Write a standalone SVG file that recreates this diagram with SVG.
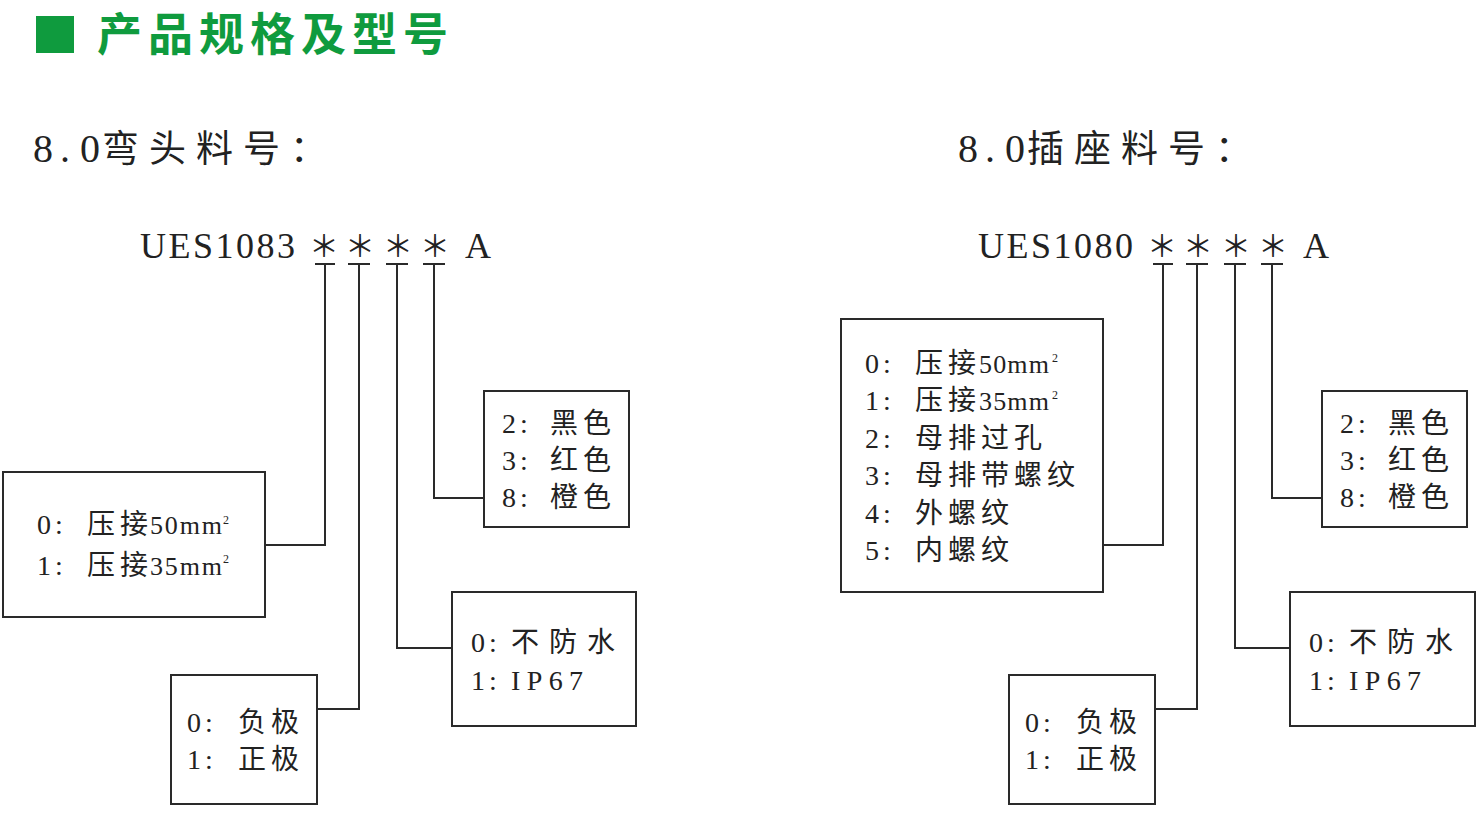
<svg xmlns="http://www.w3.org/2000/svg" width="1483" height="814" viewBox="0 0 1483 814">
<style>
.bg{fill:#ffffff}
.hd{font-family:"Noto Sans CJK SC",sans-serif;font-size:45px;font-weight:700;fill:#0f9b3e}
.ttl{font-family:"Liberation Serif","Noto Sans CJK SC",serif;font-size:40px;fill:#222}
.ttc{font-family:"Noto Sans CJK SC",sans-serif;font-size:37px;letter-spacing:10px;fill:#222}
.code{font-family:"Liberation Serif",serif;font-size:36px;fill:#222}
.ast{font-family:"Noto Sans CJK SC",sans-serif;font-size:30px;fill:#222;text-anchor:middle}
.n{font-family:"Liberation Serif",serif;font-size:28px;letter-spacing:4px;fill:#222}
.m{font-family:"Liberation Serif",serif;font-size:26px;fill:#222}
.c{font-family:"Noto Sans CJK SC",sans-serif;font-size:28px;letter-spacing:5px;fill:#222}
.sup{font-family:"Liberation Serif",serif;font-size:12px;fill:#222}
.box{fill:#fff;stroke:#2a2a2a;stroke-width:2}
.ln{fill:none;stroke:#2a2a2a;stroke-width:2}
</style>
<rect class="bg" x="0" y="0" width="1483" height="814"/>

<g id="header">
<rect x="36" y="16" width="38" height="37" fill="#0f9b3e"/>
<text class="hd" x="97" y="51" textLength="351" lengthAdjust="spacing">产品规格及型号</text>
</g>

<g id="title-left">
<text class="ttl" x="33 60 80" y="162">8.0</text>
<text class="ttc" x="102" y="162">弯头料号：</text>
</g>
<g id="title-right">
<text class="ttl" x="958 985 1005" y="162">8.0</text>
<text class="ttc" x="1027" y="162">插座料号：</text>
</g>

<g id="code-left">
<text class="code" x="140" y="258" textLength="155" lengthAdjust="spacing">UES1083</text>
<text class="ast" x="324" y="257">＊</text>
<text class="ast" x="360" y="257">＊</text>
<text class="ast" x="398" y="257">＊</text>
<text class="ast" x="435" y="257">＊</text>
<text class="code" x="465" y="258">A</text>
</g>
<g id="code-right">
<text class="code" x="978" y="258" textLength="155" lengthAdjust="spacing">UES1080</text>
<text class="ast" x="1162" y="257">＊</text>
<text class="ast" x="1198" y="257">＊</text>
<text class="ast" x="1236" y="257">＊</text>
<text class="ast" x="1273" y="257">＊</text>
<text class="code" x="1303" y="258">A</text>
</g>

<g id="connectors">
<path class="ln" d="M315 264H335M348 264H370M386 264H408M423 264H445"/>
<path class="ln" d="M325 264V545H265"/>
<path class="ln" d="M359 264V709H317"/>
<path class="ln" d="M397 264V648H452"/>
<path class="ln" d="M434 264V498H484"/>
<path class="ln" d="M1153 264H1173M1186 264H1208M1224 264H1246M1261 264H1283"/>
<path class="ln" d="M1163 264V545H1103"/>
<path class="ln" d="M1197 264V709H1155"/>
<path class="ln" d="M1235 264V648H1290"/>
<path class="ln" d="M1272 264V498H1322"/>
</g>

<g id="L-crimp">
<rect class="box" x="3" y="472" width="262" height="145"/>
<text class="n" x="37" y="534">0:</text><text class="c" x="87" y="534">压接</text><text class="m" x="150" y="534" textLength="72" lengthAdjust="spacing">50mm</text><text class="sup" x="223" y="524">2</text>
<text class="n" x="37" y="575">1:</text><text class="c" x="87" y="575">压接</text><text class="m" x="150" y="575" textLength="72" lengthAdjust="spacing">35mm</text><text class="sup" x="223" y="563">2</text>
</g>

<g id="L-pole">
<rect class="box" x="171" y="675" width="146" height="129"/>
<text class="n" x="187" y="732">0:</text><text class="c" x="238" y="732">负极</text>
<text class="n" x="187" y="769">1:</text><text class="c" x="238" y="769">正极</text>
</g>

<g id="L-water">
<rect class="box" x="452" y="592" width="184" height="134"/>
<text class="n" x="471" y="652">0:</text><text class="c" x="511" y="652" style="letter-spacing:10px">不防水</text>
<text class="n" x="471" y="690">1:</text><text class="n" x="511" y="690" textLength="76" lengthAdjust="spacing">IP67</text>
</g>

<g id="L-color">
<rect class="box" x="484" y="391" width="145" height="136"/>
<text class="n" x="502" y="433">2:</text><text class="c" x="550" y="433">黑色</text>
<text class="n" x="502" y="470">3:</text><text class="c" x="550" y="470">红色</text>
<text class="n" x="502" y="507">8:</text><text class="c" x="550" y="507">橙色</text>
</g>

<g id="R-type">
<rect class="box" x="841" y="319" width="262" height="273"/>
<text class="n" x="865" y="373">0:</text><text class="c" x="915" y="373">压接</text><text class="m" x="979" y="373" textLength="70" lengthAdjust="spacing">50mm</text><text class="sup" x="1052" y="362">2</text>
<text class="n" x="865" y="410">1:</text><text class="c" x="915" y="410">压接</text><text class="m" x="979" y="410" textLength="70" lengthAdjust="spacing">35mm</text><text class="sup" x="1052" y="399">2</text>
<text class="n" x="865" y="448">2:</text><text class="c" x="915" y="448">母排过孔</text>
<text class="n" x="865" y="485">3:</text><text class="c" x="915" y="485">母排带螺纹</text>
<text class="n" x="865" y="523">4:</text><text class="c" x="915" y="523">外螺纹</text>
<text class="n" x="865" y="560">5:</text><text class="c" x="915" y="560">内螺纹</text>
</g>

<g id="R-pole">
<rect class="box" x="1009" y="675" width="146" height="129"/>
<text class="n" x="1025" y="732">0:</text><text class="c" x="1076" y="732">负极</text>
<text class="n" x="1025" y="769">1:</text><text class="c" x="1076" y="769">正极</text>
</g>

<g id="R-water">
<rect class="box" x="1290" y="592" width="185" height="134"/>
<text class="n" x="1309" y="652">0:</text><text class="c" x="1349" y="652" style="letter-spacing:10px">不防水</text>
<text class="n" x="1309" y="690">1:</text><text class="n" x="1349" y="690" textLength="76" lengthAdjust="spacing">IP67</text>
</g>

<g id="R-color">
<rect class="box" x="1322" y="391" width="145" height="136"/>
<text class="n" x="1340" y="433">2:</text><text class="c" x="1388" y="433">黑色</text>
<text class="n" x="1340" y="470">3:</text><text class="c" x="1388" y="470">红色</text>
<text class="n" x="1340" y="507">8:</text><text class="c" x="1388" y="507">橙色</text>
</g>
</svg>
